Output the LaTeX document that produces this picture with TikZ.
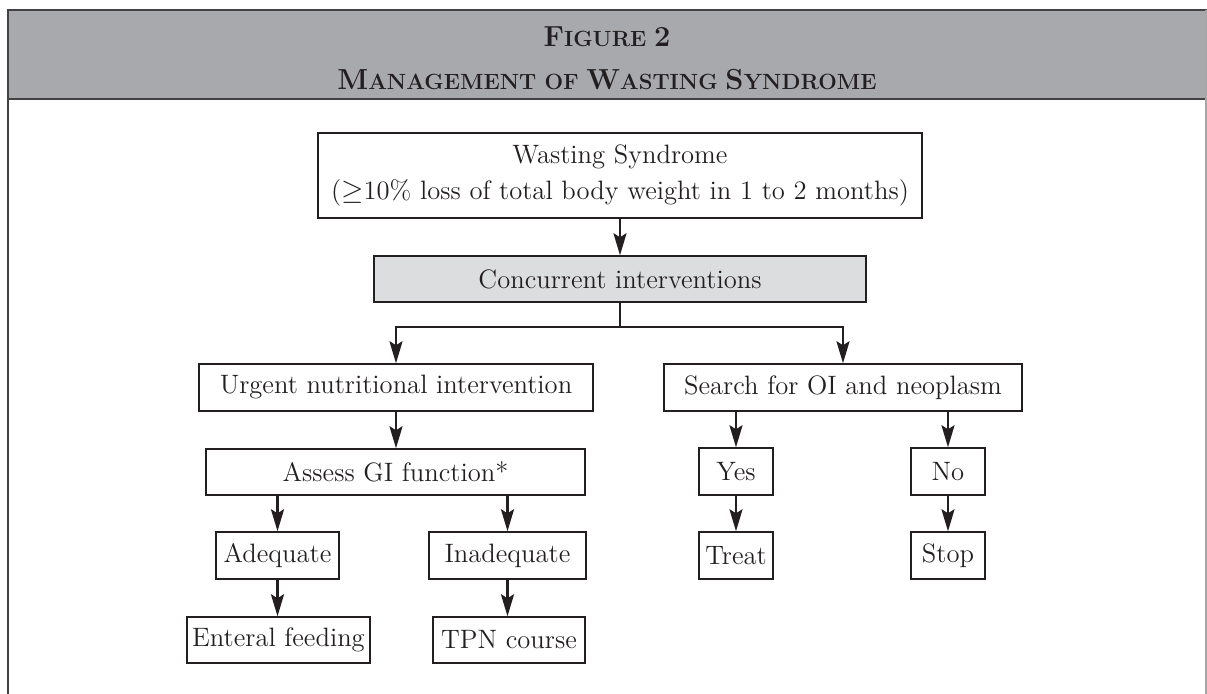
\documentclass[tikz,border=0pt]{standalone}
\usetikzlibrary{arrows.meta}
\definecolor{hdrgray}{HTML}{A8A9AC}
\definecolor{boxgray}{HTML}{DCDDDF}
\definecolor{ink}{HTML}{231F20}
\newcommand\fakesc[2]{{\fontsize{14.5}{14.5}\selectfont #1}{\fontsize{11}{11}\selectfont #2}}
\begin{document}
\begin{tikzpicture}[x=0.5pt,y=-0.5pt,
  flow/.style={draw=ink, line width=0.7pt, inner sep=0pt, align=center,
     font=\fontsize{13.3}{18}\selectfont, text=ink},
  connector/.style={draw=ink, line width=1.3pt},
  arrowed/.style={connector, -{Stealth[length=11pt,width=6.5pt,inset=2pt]}},
  headtext/.style={font=\bfseries, text=ink, inner sep=0pt}]
\useasboundingbox (0,0) rectangle (1207,694);
% header band and frame
\fill[hdrgray] (8,10) rectangle (1207,99);
\draw[ink!85, line width=1.1pt] (1207,10) -- (8,10) -- (8,694);
\draw[ink!85, line width=1.1pt] (8,99) -- (1207,99);
\draw[gray!70, line width=0.6pt] (1206,10) -- (1206,694);
\node[headtext] (fig) at (607,37) {\fakesc{F}{IGURE} {\fontsize{14.5}{14.5}\selectfont 2}};
\node[headtext] (title) at (607,80) {\fakesc{M}{ANAGEMENT OF} \fakesc{W}{ASTING} \fakesc{S}{YNDROME}};
% flow boxes
\node[flow, minimum width=302pt, minimum height=42.5pt] (wasting) at (620,175.5)
  {Wasting Syndrome\\($\geq$10\% loss of total body weight in 1 to 2 months)};
\node[flow, fill=boxgray, minimum width=246pt, minimum height=23pt] (concurrent) at (620,279) {Concurrent interventions};
\node[flow, minimum width=197pt, minimum height=23.5pt] (urgent) at (396,387.5) {Urgent nutritional intervention};
\node[flow, minimum width=179pt, minimum height=23.5pt] (search) at (843,387.5) {Search for OI and neoplasm};
\node[flow, minimum width=189.5pt, minimum height=23pt] (assess) at (395.5,472) {Assess GI function*};
\node[flow, minimum width=61.5pt, minimum height=23.5pt] (adequate) at (277.5,555.5) {Adequate};
\node[flow, minimum width=78.5pt, minimum height=23.5pt] (inadequate) at (507.5,555.5) {Inadequate};
\node[flow, minimum width=91.5pt, minimum height=23pt] (enteral) at (278.5,640) {Enteral feeding};
\node[flow, minimum width=76pt, minimum height=23pt] (tpn) at (509,640) {TPN course};
\node[flow, minimum width=37pt, minimum height=23.5pt] (yes) at (736,471.5) {Yes};
\node[flow, minimum width=37pt, minimum height=23.5pt] (no) at (948,471.5) {No};
\node[flow, minimum width=37pt, minimum height=23.5pt] (treat) at (736,555.5) {Treat};
\node[flow, minimum width=37pt, minimum height=23.5pt] (stop) at (948,555.5) {Stop};
% connectors
\draw[arrowed] (wasting.south) -- (concurrent.north);
\coordinate (split) at (620,327);
\draw[connector] (concurrent.south) -- (split);
\draw[arrowed] (split) -| (urgent.north);
\draw[arrowed] (split) -| (search.north);
\draw[arrowed] (urgent.south) -- (assess.north -| urgent.south);
\draw[arrowed] (assess.south -| adequate.north) -- (adequate.north);
\draw[arrowed] (assess.south -| inadequate.north) -- (inadequate.north);
\draw[arrowed] (adequate.south) -- (enteral.north -| adequate.south);
\draw[arrowed] (inadequate.south) -- (tpn.north -| inadequate.south);
\draw[arrowed] (search.south -| yes.north) -- (yes.north);
\draw[arrowed] (search.south -| no.north) -- (no.north);
\draw[arrowed] (yes.south) -- (treat.north);
\draw[arrowed] (no.south) -- (stop.north);
\end{tikzpicture}
\end{document}
